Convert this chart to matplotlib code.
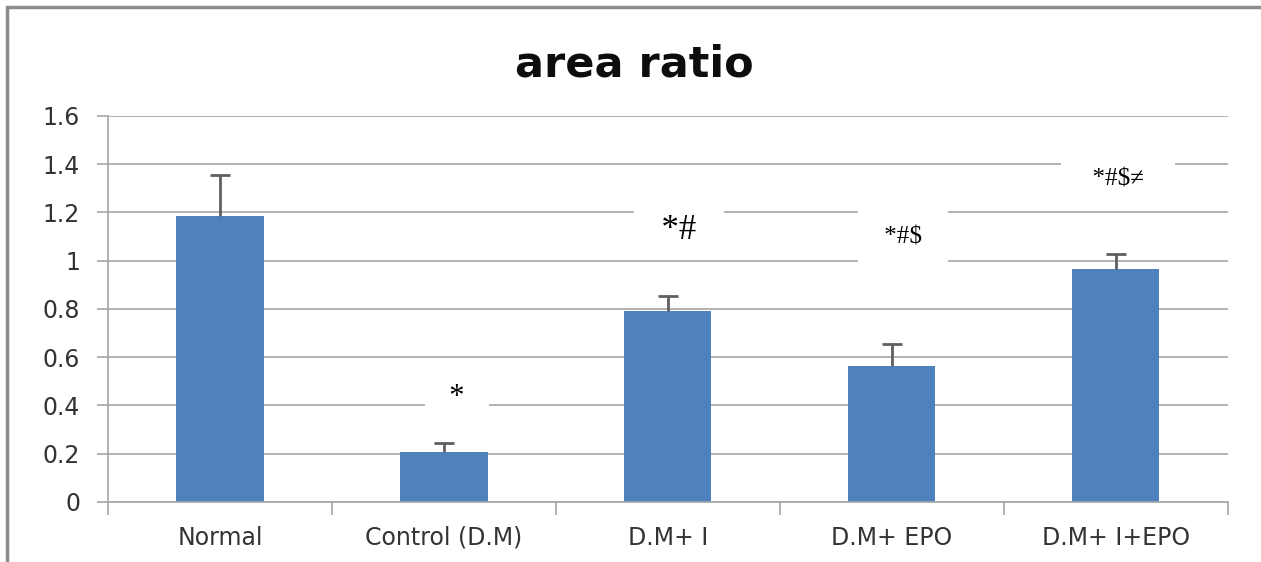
import matplotlib.pyplot as plt
import numpy as np
from matplotlib.patches import Rectangle

# data
groups = ['Normal', 'Control (D.M)', 'D.M+ I', 'D.M+ EPO', 'D.M+ I+EPO']
area_ratio = [1.185, 0.207, 0.79, 0.564, 0.966]
sem = [0.17, 0.038, 0.064, 0.091, 0.062]
marks = ['*', '*#', '*#$', '*#$\u2260']

fig = plt.figure(figsize=(12.61, 5.62), dpi=100)
ax = fig.add_axes([0.0856, 0.1068, 0.888, 0.6868])

x = np.arange(len(groups))
ax.bar(x, area_ratio, width=0.39, color='#4F81BD', zorder=2)
eb = ax.errorbar(x, area_ratio, yerr=[np.zeros(len(sem)), sem], fmt='none',
                 ecolor='#5f5f5f', elinewidth=2, capsize=7, capthick=2, zorder=3)
eb[1][0].set_visible(False)  # keep only the upper caps

ax.set_xlim(-0.5, len(groups) - 0.5)
ax.set_ylim(0, 1.6)
ax.set_yticks(np.arange(0, 1.61, 0.2))
ax.set_yticklabels(['0', '0.2', '0.4', '0.6', '0.8', '1', '1.2', '1.4', '1.6'])
ax.yaxis.grid(True, color='#a6a6a6', linewidth=1.2, zorder=0)
ax.set_axisbelow(True)

ax.set_xticks(x)
ax.set_xticklabels(groups)
ax.set_xticks(np.arange(-0.5, len(groups)), minor=True)
ax.tick_params(axis='x', which='major', length=0, pad=17, labelsize=17, labelcolor='#333333')
ax.tick_params(axis='x', which='minor', length=9, width=1.2, color='#a6a6a6')
ax.tick_params(axis='y', length=8, width=1.2, color='#a6a6a6', labelsize=17, labelcolor='#333333', pad=12)
for lab in ax.get_xticklabels() + ax.get_yticklabels():
    lab.set_family('DejaVu Sans')

for side in ['top', 'right']:
    ax.spines[side].set_visible(False)
for side in ['left', 'bottom']:
    ax.spines[side].set_color('#a6a6a6')
    ax.spines[side].set_linewidth(1.2)

# significance marks, white boxes cut the gridlines like in the source
serif = ['Liberation Serif', 'DejaVu Serif']
ax.text(1.06, 0.40, '  ' + marks[0] + '  ', fontsize=22, family=serif, ha='center', va='baseline',
        bbox=dict(boxstyle='square,pad=0.3', fc='white', ec='none'), zorder=4)
ax.text(2.05, 1.09, '  ' + marks[1] + '  ', fontsize=25, family=serif, ha='center', va='baseline',
        bbox=dict(boxstyle='square,pad=0.3', fc='white', ec='none'), zorder=4)
ax.text(3.05, 1.07, ' ' + marks[2] + ' ', fontsize=18, family=serif, ha='center', va='baseline',
        bbox=dict(boxstyle='square,pad=0.8', fc='white', ec='none'), zorder=4)
ax.text(4.01, 1.312, '  ' + marks[3] + '  ', fontsize=18, family=serif, ha='center', va='baseline',
        bbox=dict(boxstyle='square,pad=0.75', fc='white', ec='none'), zorder=4)

fig.text(0.503, 0.885, 'area ratio', fontsize=31, fontweight='bold', family='DejaVu Sans',
         ha='center', va='center', color='#0d0d0d')

# outer frame of the pasted chart
fig.patches.append(Rectangle((7 / 1261, -0.1), 1.2, 1.1 - 7 / 562, transform=fig.transFigure,
                             fill=False, ec='#8c8c8c', lw=2.5))

fig.savefig('out.png', dpi=100)
